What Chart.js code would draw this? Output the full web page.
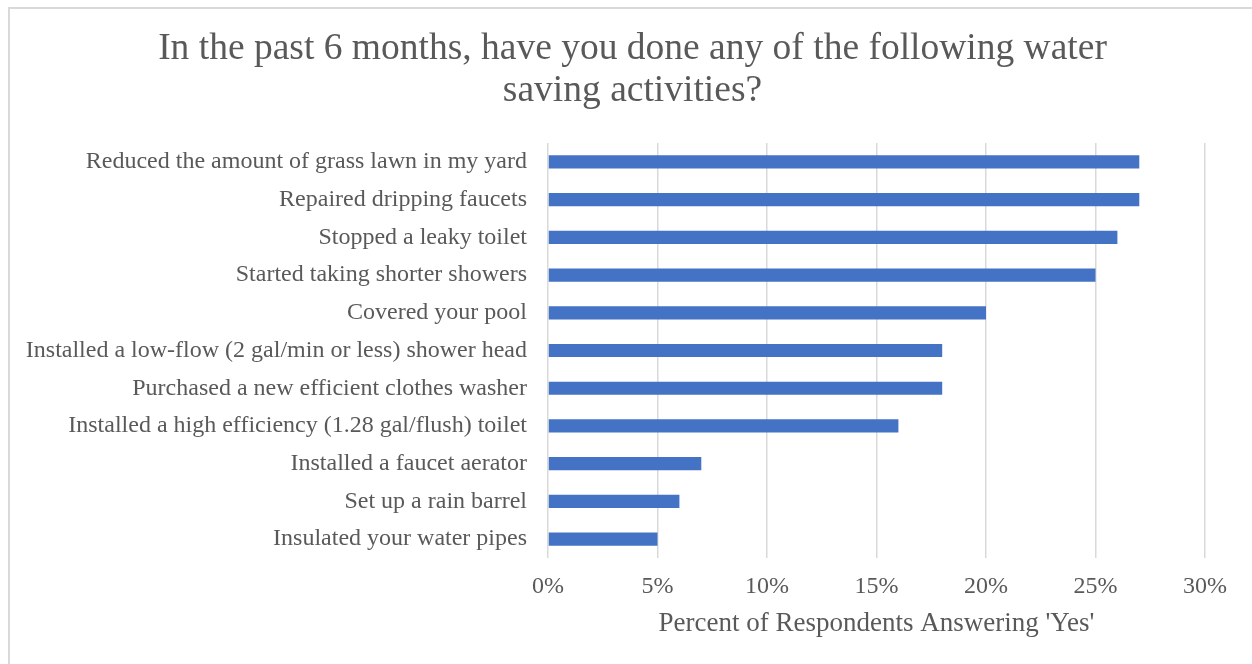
<!DOCTYPE html>
<html>
<head>
<meta charset="utf-8">
<script src="https://cdn.jsdelivr.net/npm/chart.js@4/dist/chart.umd.min.js"></script>
<style>
    html, body { margin: 0; padding: 0; background: #fff; overflow: hidden; }
    #frame {
        position: absolute; left: 8px; top: 7px; width: 1300px; height: 720px;
        border: 2px solid #d9d9d9; box-sizing: border-box;
    }
    #wrap { position: absolute; left: 0; top: 0; width: 1252px; height: 664px; }
</style>
</head>
<body>
<div id="frame"></div>
<div id="wrap"><canvas id="chart" width="1252" height="664"></canvas></div>
<script>
// Survey answers, top to bottom
const activities = [
    'Reduced the amount of grass lawn in my yard',
    'Repaired dripping faucets',
    'Stopped a leaky toilet',
    'Started taking shorter showers',
    'Covered your pool',
    'Installed a low-flow (2 gal/min or less) shower head',
    'Purchased a new efficient clothes washer',
    'Installed a high efficiency (1.28 gal/flush) toilet',
    'Installed a faucet aerator',
    'Set up a rain barrel',
    'Insulated your water pipes'
];
const yesShare = [0.27, 0.27, 0.26, 0.25, 0.20, 0.18, 0.18, 0.16, 0.07, 0.06, 0.05];

const titleLines = ['In the past 6 months, have you done any of the following water', 'saving activities?'];
const axisTitle = "Percent of Respondents Answering 'Yes'";

const textColor = '#595959';
const serif = "'Liberation Serif', 'Times New Roman', serif";

// nudge the title block so it is centred a bit right of the canvas middle
const titleShift = {
    id: 'titleShift',
    afterLayout(chart) {
        if (chart.titleBlock) chart.titleBlock.left += 60;
    }
};

new Chart(document.getElementById('chart'), {
    type: 'bar',
    data: {
        labels: activities,
        datasets: [{
            data: yesShare,
            backgroundColor: '#4472C4',
            borderWidth: 0,
            categoryPercentage: 1,
            barPercentage: 0.35
        }]
    },
    options: {
        indexAxis: 'y',
        responsive: false,
        animation: false,
        layout: { padding: { left: 0, right: 47, top: 0, bottom: 24 } },
        plugins: {
            legend: { display: false },
            tooltip: { enabled: false },
            title: {
                display: true,
                text: titleLines,
                color: textColor,
                font: { family: serif, size: 37.5, weight: 'normal', lineHeight: 1.12 },
                padding: { top: 28, bottom: 31 }
            }
        },
        scales: {
            x: {
                min: 0,
                max: 0.3,
                afterFit: s => { s.height = 82; },
                ticks: {
                    stepSize: 0.05,
                    padding: 14,
                    color: textColor,
                    font: { family: serif, size: 24 },
                    callback: v => Math.round(v * 100) + '%'
                },
                grid: { color: '#d9d9d9', lineWidth: 1.5, drawTicks: false },
                border: { display: false },
                title: {
                    display: true,
                    text: axisTitle,
                    color: textColor,
                    font: { family: serif, size: 27 },
                    padding: 0
                }
            },
            y: {
                afterFit: s => { s.width = 548; },
                ticks: {
                    padding: 21,
                    color: textColor,
                    font: { family: serif, size: 24 }
                },
                grid: { display: false, drawTicks: false },
                border: { display: false }
            }
        }
    },
    plugins: [titleShift]
});
</script>
</body>
</html>
